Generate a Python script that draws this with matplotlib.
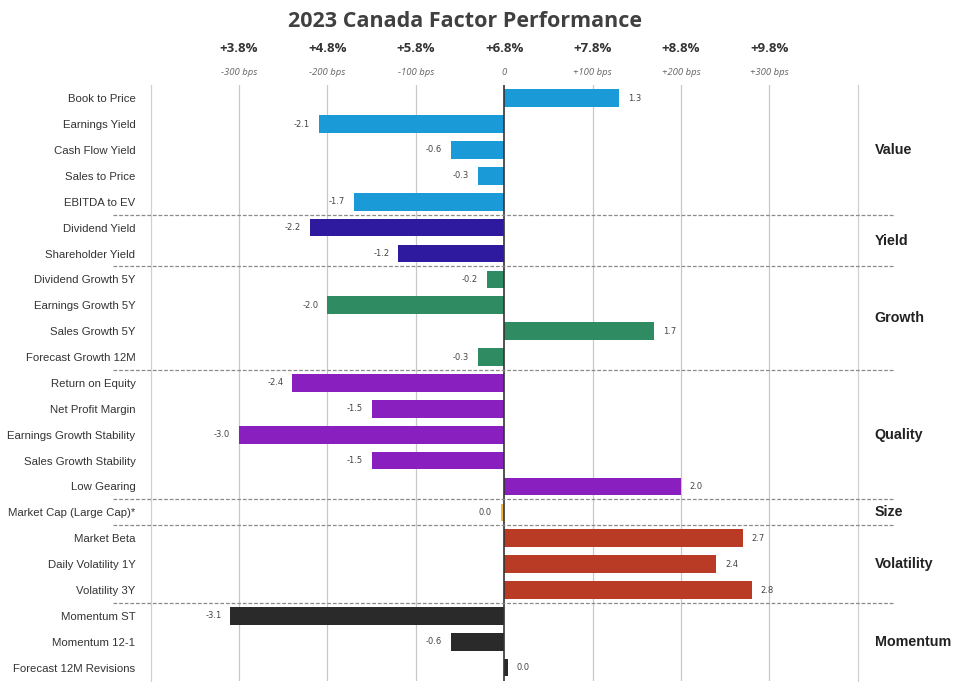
import matplotlib
matplotlib.use("Agg")
import matplotlib.pyplot as plt
import matplotlib.transforms as mtransforms

factors = ["Book to Price", "Earnings Yield", "Cash Flow Yield", "Sales to Price", "EBITDA to EV",
           "Dividend Yield", "Shareholder Yield",
           "Dividend Growth 5Y", "Earnings Growth 5Y", "Sales Growth 5Y", "Forecast Growth 12M",
           "Return on Equity", "Net Profit Margin", "Earnings Growth Stability", "Sales Growth Stability", "Low Gearing",
           "Market Cap (Large Cap)*",
           "Market Beta", "Daily Volatility 1Y", "Volatility 3Y",
           "Momentum ST", "Momentum 12-1", "Forecast 12M Revisions"]
values = [1.3, -2.1, -0.6, -0.3, -1.7,
          -2.2, -1.2,
          -0.2, -2.0, 1.7, -0.3,
          -2.4, -1.5, -3.0, -1.5, 2.0,
          -0.04,
          2.7, 2.4, 2.8,
          -3.1, -0.6, 0.04]
groups = ["Value", "Yield", "Growth", "Quality", "Size", "Volatility", "Momentum"]
group_sizes = [5, 2, 4, 5, 1, 3, 3]
group_colors = ["#1a9bd7", "#2e1a9e", "#2e8b62", "#8a1fbf", "#f3b62e", "#b93b25", "#2a2a2a"]
top_returns = ["+3.8%", "+4.8%", "+5.8%", "+6.8%", "+7.8%", "+8.8%", "+9.8%"]
top_bps = ["-300 bps", "-200 bps", "-100 bps", "0", "+100 bps", "+200 bps", "+300 bps"]
top_pos = [-3, -2, -1, 0, 1, 2, 3]

colors = []
for c, n in zip(group_colors, group_sizes):
    colors += [c] * n

fig = plt.figure(figsize=(9.54, 6.82), dpi=100)
ax = fig.add_axes([0.158, 0.002, 0.741, 0.873])

y = list(range(len(factors)))
ax.barh(y, values, height=0.68, color=colors, zorder=3)
ax.set_ylim(len(factors) - 0.5, -0.5)
ax.set_xlim(-4, 4)

for xv in [-3, -2, -1, 1, 2, 3]:
    ax.axvline(xv, color="#c8c8c8", lw=0.9, zorder=1)
ax.axvline(0, color="#333333", lw=1.2, zorder=4)

for yi, v in zip(y, values):
    lab = f"{v:.1f}".replace("-0.0", "0.0")
    if v >= 0:
        ax.text(v + 0.1, yi, lab, va="center", ha="left", fontsize=6, color="#444444")
    else:
        ax.text(v - 0.1, yi, lab, va="center", ha="right", fontsize=6, color="#444444")

ax.set_yticks(y)
ax.set_yticklabels(factors, fontsize=8.2, color="#333333", family="Liberation Sans")
ax.tick_params(axis="y", length=0, pad=11)
ax.set_xticks([])
for s in ["top", "bottom"]:
    ax.spines[s].set_visible(False)
for s in ["left", "right"]:
    ax.spines[s].set_color("#d0d0d0")
    ax.spines[s].set_linewidth(0.9)

# group separators and labels
sep_tr = mtransforms.blended_transform_factory(fig.transFigure, ax.transData)
start = 0
for g, n in zip(groups, group_sizes):
    mid = start + (n - 1) / 2
    ax.text(0.917, mid, g, transform=sep_tr, ha="left", va="center",
            fontsize=10.3, fontweight="bold", color="#222222", family="Liberation Sans")
    start += n
    if start < len(factors):
        ax.plot([0.118, 0.936], [start - 0.5, start - 0.5], transform=sep_tr,
                color="#8a8a8a", lw=0.9, ls=(0, (3, 1.5)), clip_on=False, zorder=5)

# top scale labels
top_tr = mtransforms.blended_transform_factory(ax.transData, fig.transFigure)
for xp, r, b in zip(top_pos, top_returns, top_bps):
    ax.text(xp, 0.929, r, transform=top_tr, ha="center", va="center",
            fontsize=9.5, fontweight="bold", color="#333333", family="Open Sans")
    ax.text(xp, 0.893, b, transform=top_tr, ha="center", va="center",
            fontsize=6.8, style="italic", color="#666666", family="Open Sans")

fig.text(0.487, 0.968, "2023 Canada Factor Performance", ha="center", va="center",
         fontsize=15.5, fontweight="bold", color="#404040", family="Open Sans")

fig.savefig("out.png", dpi=100)
